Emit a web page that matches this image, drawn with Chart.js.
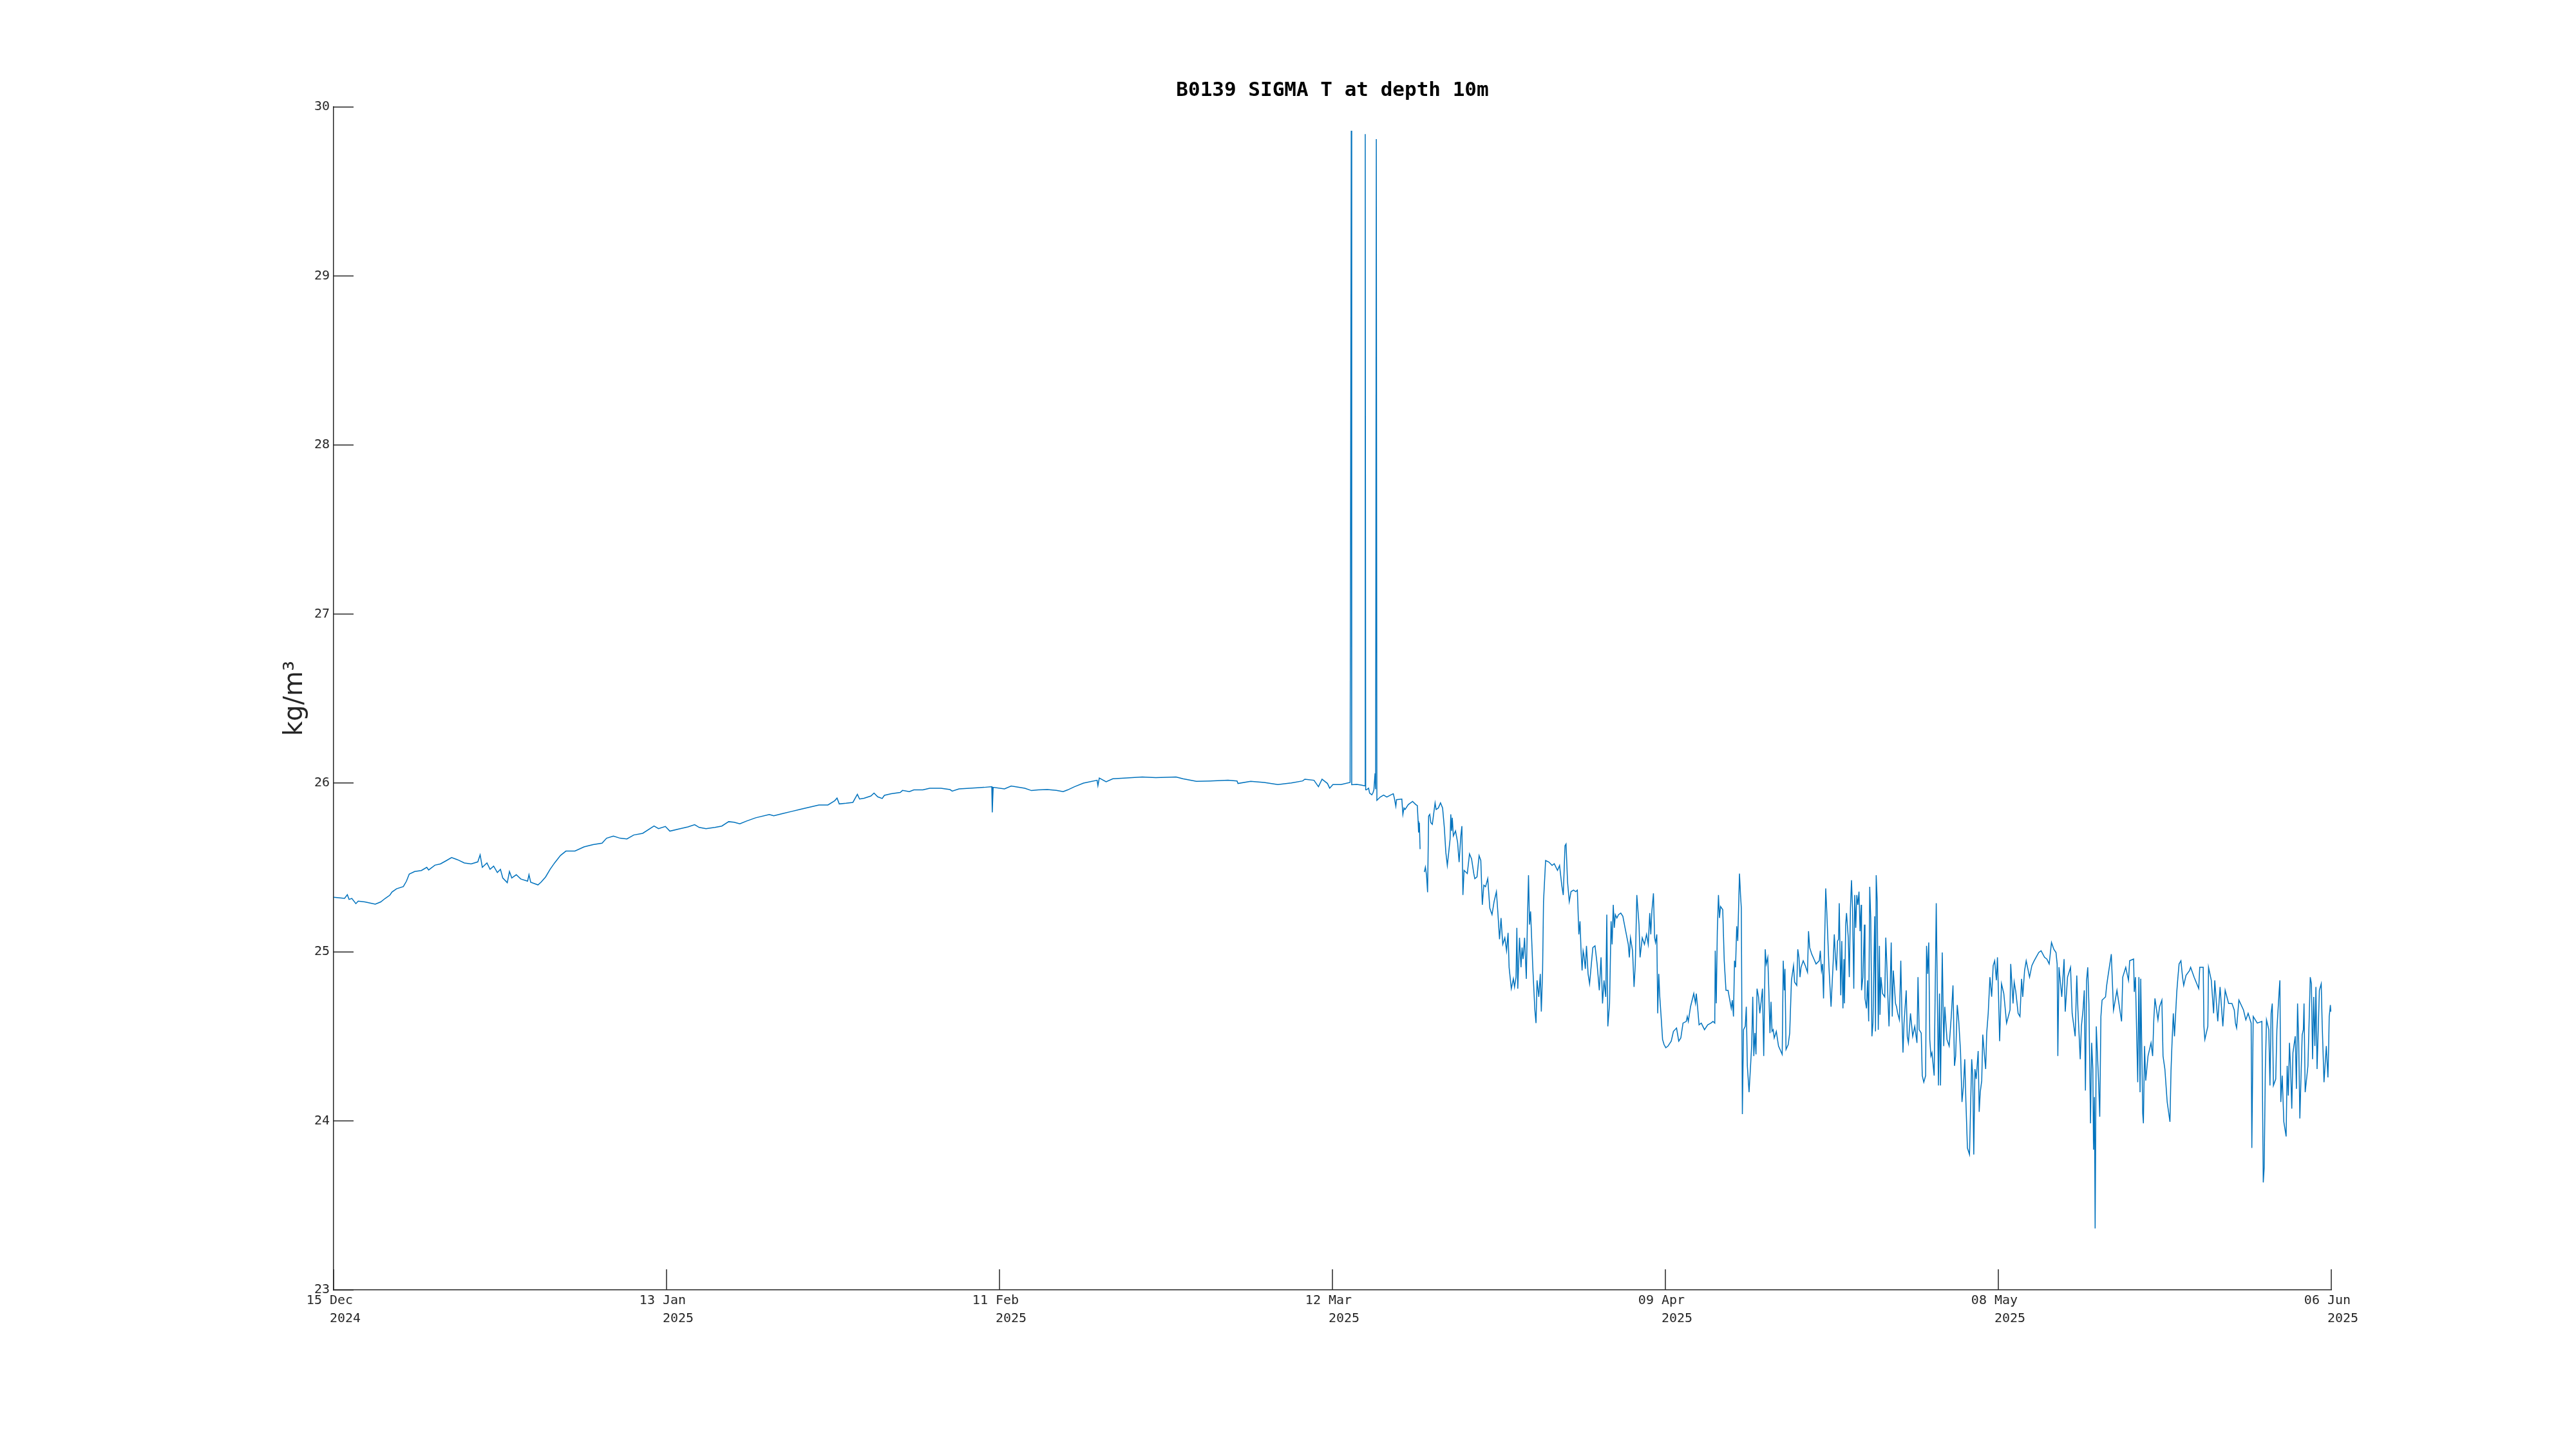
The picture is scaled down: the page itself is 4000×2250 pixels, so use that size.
<!DOCTYPE html>
<html>
<head>
<meta charset="utf-8">
<title>B0139 SIGMA T at depth 10m</title>
<script src="https://cdn.jsdelivr.net/npm/chart.js@4.4.1/dist/chart.umd.min.js"></script>
<style>
  html, body { margin: 0; padding: 0; background: #fff; }
  canvas { display: block; }
</style>
</head>
<body>
<canvas id="sigmaChart" width="4000" height="2250"></canvas>
<script>
// time axis: days since 15 Dec 2024
const days = [
  0, 0.56, 0.95, 1.19, 1.34, 1.58, 1.93, 2.13, 2.71, 3.61, 4.08, 4.47, 4.87, 5.06, 5.45, 6.04, 6.31, 6.55, 7.02, 7.6,
  8.07, 8.23, 8.78, 9.25, 9.75, 10.22, 10.73, 11.32, 11.91, 12.49, 12.69, 12.88, 13.28, 13.55, 13.86, 14.18, 14.45, 14.65, 15.04, 15.23,
  15.43, 15.82, 16.21, 16.8, 16.92, 17.07, 17.7, 17.97, 18.36, 18.75, 19.14, 19.65, 20.12, 20.9, 21.69, 22.47, 23.25, 23.64, 24.23, 24.82,
  25.4, 25.99, 26.77, 27.75, 28.14, 28.73, 29.12, 29.9, 30.69, 31.27, 31.66, 32.25, 33.03, 33.62, 34.21, 34.68, 35.18, 35.77, 36.55, 37.73,
  38.12, 38.9, 39.69, 40.47, 41.25, 42.03, 42.81, 43.4, 43.6, 43.79, 44.38, 44.97, 45.36, 45.55, 45.94, 46.53, 46.8, 47.12, 47.51, 47.7,
  48.29, 49.07, 49.27, 49.86, 50.25, 51.03, 51.62, 52.6, 53.38, 53.57, 54.16, 55.75, 56.33, 57.0, 57.04, 57.12, 58.1, 58.68, 59.86, 60.44,
  61.03, 61.81, 62.59, 63.18, 63.57, 64.16, 64.94, 66.12, 66.19, 66.31, 66.9, 67.48, 68.46, 70.03, 71.2, 72.96, 73.55, 74.72, 75.9, 77.46,
  78.24, 78.32, 79.42, 80.59, 81.77, 82.94, 83.92, 84.11, 84.9, 85.29, 85.6, 86.07, 86.26, 86.54, 87.24, 88.03, 88.13, 88.17, 88.61, 88.98,
  89.31, 89.34, 89.38, 89.44, 89.63, 89.72, 89.91, 90.0, 90.09, 90.19, 90.24, 90.3, 90.35, 90.65, 90.93, 91.21, 91.58, 91.77, 91.86, 91.99,
  92.05, 92.51, 92.6, 92.7, 92.79, 93.07, 93.44, 93.72, 93.85, 93.92, 93.96, 94.03, 94.09, 94.25, 94.46, 94.55, 94.65, 94.74, 94.83, 94.93,
  95.02, 95.15, 95.39, 95.48, 95.67, 95.86, 96.04, 96.19, 96.32, 96.45, 96.6, 96.69, 96.75, 96.82, 96.88, 96.97, 97.16, 97.34, 97.47, 97.62,
  97.71, 97.8, 97.9, 98.18, 98.37, 98.55, 98.74, 98.83, 99.02, 99.2, 99.35, 99.48, 99.61, 99.76, 99.95, 100.13, 100.32, 100.5, 100.7, 100.82,
  100.97, 101.1, 101.25, 101.43, 101.58, 101.71, 101.8, 101.99, 102.17, 102.27, 102.4, 102.47, 102.55, 102.7, 102.83, 102.92, 103.01, 103.14, 103.29, 103.38,
  103.48, 103.57, 103.66, 103.85, 104.03, 104.13, 104.22, 104.37, 104.5, 104.59, 104.7, 104.78, 104.96, 105.24, 105.52, 105.71, 105.99, 106.17, 106.36, 106.49,
  106.64, 106.73, 106.86, 107.01, 107.16, 107.38, 107.57, 107.71, 107.84, 107.94, 108.03, 108.12, 108.21, 108.27, 108.4, 108.5, 108.64, 108.77, 109.05, 109.24,
  109.42, 109.61, 109.76, 109.89, 110.02, 110.17, 110.26, 110.35, 110.5, 110.63, 110.72, 110.82, 110.91, 111.0, 111.13, 111.28, 111.47, 111.65, 111.84, 112.12,
  112.21, 112.31, 112.49, 112.62, 112.73, 112.86, 113.05, 113.14, 113.33, 113.52, 113.7, 113.85, 113.98, 114.07, 114.16, 114.3, 114.4, 114.48, 114.59, 114.67,
  114.76, 114.85, 115.0, 115.09, 115.22, 115.37, 115.56, 115.84, 116.03, 116.3, 116.49, 116.67, 116.86, 117.14, 117.23, 117.32, 117.51, 117.79, 117.94, 118.01,
  118.12, 118.25, 118.44, 118.72, 119.0, 119.28, 119.46, 119.61, 119.65, 119.74, 119.83, 119.93, 120.02, 120.11, 120.3, 120.43, 120.58, 120.76, 120.91, 121.04,
  121.13, 121.23, 121.32, 121.41, 121.51, 121.6, 121.75, 121.84, 121.91, 122.0, 122.1, 122.25, 122.34, 122.43, 122.58, 122.71, 122.81, 122.9, 122.99, 123.09,
  123.18, 123.27, 123.4, 123.51, 123.64, 123.74, 123.85, 123.92, 123.98, 124.07, 124.2, 124.29, 124.39, 124.48, 124.57, 124.67, 124.76, 124.94, 125.13, 125.32,
  125.45, 125.54, 125.63, 125.69, 125.78, 125.97, 126.1, 126.25, 126.43, 126.52, 126.71, 126.8, 126.9, 126.99, 127.08, 127.27, 127.45, 127.64, 127.73, 127.83,
  128.01, 128.2, 128.38, 128.66, 128.75, 128.85, 128.94, 129.03, 129.13, 129.22, 129.31, 129.41, 129.5, 129.68, 129.87, 129.96, 130.06, 130.15, 130.24, 130.33,
  130.39, 130.52, 130.61, 130.71, 130.8, 130.84, 130.95, 131.02, 131.17, 131.26, 131.36, 131.45, 131.54, 131.65, 131.73, 131.82, 131.91, 132.0, 132.1, 132.19,
  132.29, 132.32, 132.44, 132.57, 132.62, 132.75, 132.84, 132.94, 133.03, 133.12, 133.22, 133.31, 133.46, 133.53, 133.59, 133.68, 133.77, 133.87, 133.92, 134.0,
  134.14, 134.33, 134.42, 134.52, 134.61, 134.7, 134.8, 134.89, 134.98, 135.07, 135.17, 135.26, 135.35, 135.45, 135.6, 135.72, 135.82, 135.91, 136.0, 136.19,
  136.28, 136.38, 136.56, 136.75, 136.93, 137.12, 137.21, 137.31, 137.49, 137.58, 137.71, 137.87, 137.95, 138.05, 138.14, 138.23, 138.33, 138.42, 138.61, 138.79,
  138.98, 139.07, 139.16, 139.31, 139.44, 139.53, 139.72, 139.91, 140.09, 140.24, 140.37, 140.47, 140.61, 140.74, 140.89, 141.02, 141.15, 141.26, 141.36, 141.49,
  141.67, 141.86, 141.95, 142.04, 142.14, 142.25, 142.42, 142.51, 142.6, 142.73, 142.82, 142.97, 143.07, 143.16, 143.29, 143.44, 143.59, 143.72, 143.85, 144.0,
  144.09, 144.18, 144.28, 144.44, 144.64, 144.88, 145.18, 145.24, 145.44, 145.54, 145.68, 145.88, 146.04, 146.18, 146.28, 146.44, 146.58, 146.87, 147.07, 147.27,
  147.67, 147.87, 148.17, 148.37, 148.57, 148.77, 148.97, 149.16, 149.26, 149.32, 149.42, 149.66, 149.86, 149.96, 150.16, 150.42, 150.56, 150.82, 150.96, 151.06,
  151.26, 151.36, 151.5, 151.61, 151.71, 151.81, 151.91, 152.01, 152.15, 152.25, 152.35, 152.41, 152.49, 152.55, 152.65, 152.85, 152.95, 153.05, 153.15, 153.45,
  153.55, 153.65, 153.95, 154.14, 154.44, 154.84, 154.94, 155.2, 155.44, 155.54, 155.88, 155.94, 156.04, 156.24, 156.34, 156.44, 156.5, 156.67, 156.73, 156.83,
  156.93, 157.13, 157.39, 157.53, 157.63, 157.73, 157.99, 158.13, 158.33, 158.43, 158.59, 158.79, 158.93, 159.03, 159.12, 159.22, 159.32, 159.42, 159.62, 159.72,
  159.82, 159.98, 160.12, 160.22, 160.42, 160.72, 160.82, 161.12, 161.52, 161.61, 161.91, 161.97, 162.05, 162.31, 162.37, 162.61, 162.81, 162.91, 163.17, 163.37,
  163.61, 163.81, 164.11, 164.4, 164.6, 164.7, 164.8, 165.0, 165.4, 165.6, 165.8, 166.06, 166.12, 166.24, 166.59, 166.99, 167.05, 167.11, 167.19, 167.29,
  167.39, 167.59, 167.69, 167.79, 167.89, 167.99, 168.19, 168.29, 168.49, 168.55, 168.63, 168.75, 168.89, 169.09, 169.18, 169.28, 169.38, 169.48, 169.58, 169.68,
  169.88, 169.98, 170.08, 170.18, 170.28, 170.48, 170.58, 170.64, 170.74, 170.98, 171.18, 171.28, 171.38, 171.48, 171.58, 171.67, 171.77, 171.97, 172.13, 172.21,
  172.37, 172.57, 172.71, 172.77, 172.82, 172.88, 172.92, 172.96
];

// sigma-t (kg/m^3); null marks the short gap in the record
const sigmaT = [
  25.324, 25.32, 25.317, 25.339, 25.311, 25.317, 25.286, 25.301, 25.296, 25.283, 25.296, 25.317, 25.336, 25.355, 25.374, 25.387, 25.419, 25.461, 25.476, 25.482,
  25.501, 25.485, 25.514, 25.521, 25.54, 25.559, 25.546, 25.527, 25.521, 25.533, 25.575, 25.501, 25.527, 25.489, 25.508, 25.47, 25.489, 25.438, 25.41, 25.476,
  25.438, 25.457, 25.432, 25.419, 25.457, 25.413, 25.397, 25.413, 25.444, 25.489, 25.527, 25.571, 25.597, 25.597, 25.622, 25.635, 25.644, 25.673, 25.686, 25.673,
  25.669, 25.692, 25.702, 25.745, 25.73, 25.743, 25.715, 25.728, 25.74, 25.753, 25.737, 25.73, 25.737, 25.745, 25.771, 25.768, 25.758, 25.775, 25.794, 25.813,
  25.806, 25.819, 25.832, 25.845, 25.857, 25.87, 25.87, 25.895, 25.911, 25.876, 25.88, 25.885, 25.933, 25.905, 25.91, 25.923, 25.94, 25.918, 25.908, 25.927,
  25.936, 25.944, 25.956, 25.949, 25.959, 25.959, 25.969, 25.969, 25.961, 25.952, 25.965, 25.972, 25.974, 25.978, 25.826, 25.974, 25.965, 25.982, 25.969, 25.955,
  25.959, 25.961, 25.956, 25.949, 25.959, 25.978, 25.999, 26.016, 25.984, 26.029, 26.007, 26.025, 26.029, 26.035, 26.032, 26.035, 26.025, 26.01, 26.012, 26.016,
  26.012, 25.997, 26.01, 26.003, 25.991, 26.0, 26.012, 26.022, 26.016, 25.978, 26.022, 25.997, 25.969, 25.991, 25.991, 26.003, 29.86, 25.99, 25.992, 25.988,
  25.983, 29.84, 25.96, 25.959, 25.969, 25.94, 25.93, 25.94, 25.959, 26.057, 25.963, 29.81, 25.897, 25.917, 25.928, 25.917, 25.93, 25.936, 25.911, 25.862,
  25.901, 25.905, 25.814, 25.852, 25.843, 25.872, 25.891, 25.872, 25.866, 25.775, 25.707, 25.765, 25.609, null, 25.473, 25.502, 25.454, 25.353, 25.804, 25.814,
  25.765, 25.755, 25.882, 25.843, 25.852, 25.882, 25.852, 25.736, 25.59, 25.512, 25.609, 25.668, 25.814, 25.716, 25.794, 25.687, 25.716, 25.648, 25.532, 25.687,
  25.745, 25.337, 25.483, 25.464, 25.58, 25.551, 25.464, 25.434, 25.444, 25.57, 25.541, 25.279, 25.395, 25.386, 25.434, 25.259, 25.221, 25.298, 25.357, 25.24,
  25.075, 25.201, 25.045, 25.084, 25.007, 25.113, 24.909, 24.783, 24.841, 24.793, 24.851, 25.143, 24.783, 25.084, 24.909, 25.026, 24.958, 25.084, 24.841, 25.162,
  25.454, 25.162, 25.24, 24.909, 24.657, 24.579, 24.832, 24.734, 24.87, 24.647, 24.89, 25.298, 25.541, 25.532, 25.512, 25.522, 25.483, 25.512, 25.395, 25.337,
  25.629, 25.639, 25.415, 25.298, 25.357, 25.366, 25.357, 25.366, 25.104, 25.182, 25.007, 24.89, 25.007, 24.987, 24.9, 25.036, 24.87, 24.812, 25.026, 25.036,
  24.929, 24.773, 24.968, 24.695, 24.832, 24.734, 25.221, 24.56, 24.695, 25.182, 25.045, 25.279, 25.143, 25.221, 25.201, 25.221, 25.23, 25.211, 25.143, 25.045,
  24.968, 25.084, 25.007, 24.793, 24.929, 25.337, 25.162, 24.968, 25.084, 25.045, 25.104, 25.045, 25.23, 25.104, 25.24, 25.347, 25.084, 25.055, 25.104, 24.637,
  24.87, 24.734, 24.579, 24.482, 24.452, 24.433, 24.443, 24.472, 24.53, 24.55, 24.472, 24.491, 24.579, 24.589, 24.618, 24.589, 24.676, 24.754, 24.696, 24.754,
  24.676, 24.569, 24.579, 24.54, 24.569, 24.579, 24.589, 24.579, 25.007, 24.696, 25.123, 25.337, 25.201, 25.269, 25.25, 24.948, 24.773, 24.773, 24.715, 24.666,
  24.715, 24.618, 24.948, 24.909, 25.152, 25.065, 25.464, 25.337, 25.259, 24.04, 24.54, 24.56, 24.676, 24.326, 24.17, 24.326, 24.452, 24.735, 24.384, 24.52,
  24.394, 24.783, 24.734, 24.637, 24.715, 24.783, 24.384, 24.715, 25.016, 24.929, 24.968, 24.773, 24.52, 24.705, 24.53, 24.54, 24.491, 24.53, 24.443, 24.414,
  24.394, 24.948, 24.773, 24.9, 24.423, 24.452, 24.52, 24.832, 24.919, 24.822, 24.802, 25.016, 24.968, 24.851, 24.909, 24.948, 24.919, 24.88, 25.123, 25.026,
  24.987, 24.958, 24.929, 24.948, 25.007, 24.89, 24.929, 24.725, 25.085, 25.376, 25.24, 25.065, 24.909, 24.676, 24.948, 25.104, 24.968, 24.89, 25.065, 25.075,
  25.288, 24.744, 25.065, 24.666, 24.958, 24.696, 25.162, 25.23, 25.085, 24.851, 25.259, 25.425, 25.259, 24.783, 25.337, 25.143, 25.337, 25.279, 25.357, 25.123,
  25.279, 24.773, 24.851, 25.162, 24.725, 24.666, 24.832, 24.589, 25.386, 25.191, 24.501, 24.579, 25.211, 24.53, 25.454, 25.298, 24.54, 25.036, 24.628, 24.851,
  24.754, 24.734, 25.085, 24.909, 24.715, 24.56, 24.793, 25.056, 24.618, 24.89, 24.793, 24.696, 24.676, 24.637, 24.598, 24.948, 24.618, 24.404, 24.579, 24.773,
  24.501, 24.462, 24.637, 24.501, 24.56, 24.462, 24.851, 24.54, 24.52, 24.268, 24.229, 24.268, 25.036, 24.87, 25.056, 24.482, 24.384, 24.404, 24.268, 25.288,
  24.21, 24.754, 24.21, 24.997, 24.443, 24.676, 24.482, 24.443, 24.618, 24.802, 24.326, 24.384, 24.686, 24.589, 24.414, 24.112, 24.21, 24.365, 24.112, 23.84,
  23.801, 24.365, 24.268, 23.801, 24.307, 24.248, 24.414, 24.054, 24.17, 24.239, 24.511, 24.384, 24.307, 24.52, 24.637, 24.851, 24.735, 24.919, 24.948, 24.832,
  24.968, 24.754, 24.472, 24.812, 24.754, 24.579, 24.657, 24.929, 24.695, 24.822, 24.764, 24.637, 24.618, 24.841, 24.734, 24.89, 24.948, 24.851, 24.919, 24.948,
  24.997, 25.007, 24.968, 24.958, 24.929, 25.056, 25.016, 24.997, 24.929, 24.384, 24.91, 24.734, 24.958, 24.647, 24.851, 24.909, 24.637, 24.501, 24.861, 24.656,
  24.365, 24.56, 24.656, 24.773, 24.18, 24.832, 24.909, 24.695, 23.986, 24.462, 24.307, 23.83, 24.141, 23.364, 24.56, 24.229, 24.025, 24.618, 24.715, 24.734,
  24.802, 24.851, 24.987, 24.656, 24.773, 24.589, 24.851, 24.909, 24.832, 24.948, 24.958, 24.764, 24.851, 24.229, 24.851, 24.17, 24.842, 24.044, 23.986, 24.443,
  24.239, 24.384, 24.462, 24.384, 24.598, 24.725, 24.598, 24.676, 24.715, 24.384, 24.307, 24.112, 24.044, 23.995, 24.297, 24.482, 24.637, 24.501, 24.764, 24.851,
  24.929, 24.948, 24.851, 24.802, 24.861, 24.89, 24.909, 24.851, 24.783, 24.909, 24.909, 24.56, 24.482, 24.56, 24.909, 24.832, 24.637, 24.832, 24.589, 24.793,
  24.56, 24.773, 24.695, 24.695, 24.656, 24.579, 24.55, 24.715, 24.656, 24.598, 24.637, 24.579, 23.84, 24.618, 24.579, 24.589, 24.112, 23.636, 23.723, 24.307,
  24.598, 24.54, 24.21, 24.637, 24.695, 24.21, 24.248, 24.54, 24.773, 24.832, 24.112, 24.268, 23.995, 23.908, 24.326, 24.15, 24.462, 24.307, 24.073, 24.404,
  24.501, 24.19, 24.695, 24.462, 24.015, 24.51, 24.54, 24.695, 24.17, 24.326, 24.851, 24.812, 24.365, 24.734, 24.443, 24.793, 24.307, 24.773, 24.812, 24.579,
  24.229, 24.443, 24.258, 24.423, 24.618, 24.656, 24.686, 24.647
];

// x ticks: seven evenly spaced dates across the record
const xTickDays = [0, 28.833, 57.667, 86.5, 115.333, 144.167, 173];
const xTickDates = ['15 Dec', '13 Jan', '11 Feb', '12 Mar', '09 Apr', '08 May', '06 Jun'];
const xTickYears = ['2024', '2025', '2025', '2025', '2025', '2025', '2025'];

const axisColor = '#262626';
const lineColor = '#0072BD';

// MATLAB-style tick marks drawn inward from the axis lines
const innerTicks = {
    id: 'innerTicks',
    afterDraw(chart) {
        const { ctx, chartArea, scales } = chart;
        ctx.save();
        ctx.strokeStyle = axisColor;
        ctx.lineWidth = 1.5;
        ctx.beginPath();
        scales.x.ticks.forEach(t => {
            const px = scales.x.getPixelForValue(t.value);
            ctx.moveTo(px, chartArea.bottom);
            ctx.lineTo(px, chartArea.bottom - 32);
        });
        scales.y.ticks.forEach(t => {
            const py = scales.y.getPixelForValue(t.value);
            ctx.moveTo(chartArea.left, py);
            ctx.lineTo(chartArea.left + 31, py);
        });
        ctx.stroke();
        ctx.restore();
    }
};

const points = days.map((d, i) => ({ x: d, y: sigmaT[i] }));

new Chart(document.getElementById('sigmaChart'), {
    type: 'line',
    data: {
        datasets: [{
            label: 'SIGMA T',
            data: points,
            borderColor: lineColor,
            borderWidth: 1.5,
            pointRadius: 0,
            tension: 0,
            spanGaps: false
        }]
    },
    options: {
        responsive: false,
        animation: false,
        devicePixelRatio: 1,
        layout: { padding: { left: 400, right: 380, top: 100, bottom: 187 } },
        plugins: {
            legend: { display: false },
            tooltip: { enabled: false },
            title: {
                display: true,
                fullSize: false,   // centre the title over the axes, not the page
                text: 'B0139 SIGMA T at depth 10m',
                color: '#000',
                font: { family: 'DejaVu Sans Mono', size: 31, weight: 'bold', lineHeight: 1.2 },
                padding: { top: 22, bottom: 7 }
            }
        },
        scales: {
            x: {
                type: 'linear',
                min: 0,
                max: 173,
                grid: { display: false, drawTicks: false },
                border: { display: true, color: axisColor, width: 1.5 },
                afterBuildTicks: scale => {
                    scale.ticks = xTickDays.map(v => ({ value: v }));
                },
                afterFit: scale => { scale.height = 60; },
                ticks: {
                    autoSkip: false,
                    maxRotation: 0,
                    padding: 3,
                    color: axisColor,
                    font: { family: 'DejaVu Sans Mono', size: 20, lineHeight: 1.4 },
                    callback: (value, index) => [xTickDates[index] + ' ', '   ' + xTickYears[index]]
                }
            },
            y: {
                min: 23,
                max: 30,
                grid: { display: false, drawTicks: false },
                border: { display: true, color: axisColor, width: 1.5 },
                afterFit: scale => { scale.width = 118; },
                ticks: {
                    stepSize: 1,
                    padding: 6,
                    color: axisColor,
                    font: { family: 'DejaVu Sans Mono', size: 20 }
                },
                title: {
                    display: true,
                    text: 'kg/m³',
                    color: axisColor,
                    font: { family: 'DejaVu Sans', size: 40, lineHeight: 1.2 },
                    padding: { top: 35, bottom: 0 }
                }
            }
        }
    },
    plugins: [innerTicks]
});
</script>
</body>
</html>
